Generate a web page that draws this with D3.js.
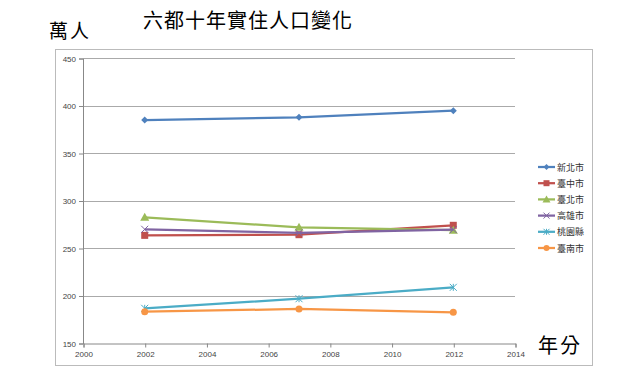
<!DOCTYPE html>
<html><head><meta charset="utf-8">
<script src="https://cdn.jsdelivr.net/npm/d3@7"></script>
<style>body{margin:0;background:#fff}svg{display:block}</style>
</head><body>
<script>
const years = [2002, 2007, 2012];
const seriesNames = ["新北市", "臺中市", "臺北市", "高雄市", "桃園縣", "臺南市"];
const xinbei = [384.7, 387.6, 394.5];
const taizhong = [263.3, 264.0, 273.9];
const taibei = [282.3, 271.8, 268.8];
const gaoxiong = [269.7, 266.0, 269.3];
const taoyuan = [186.5, 196.6, 208.6];
const tainan = [183.0, 185.8, 182.3];
const yTicks = [150, 200, 250, 300, 350, 400, 450];
const xTicks = [2000, 2002, 2004, 2006, 2008, 2010, 2012, 2014];
const colors = ["#4F81BD", "#C0504D", "#9BBB59", "#8064A2", "#4BACC6", "#F79646"];
const markers = ["diamond", "square", "triangle", "x", "star", "circle"];
const values = [xinbei, taizhong, taibei, gaoxiong, taoyuan, tainan];

const W = 640, H = 386;
const svg = d3.select("body").append("svg").attr("width", W).attr("height", H);
const font = "'Noto Sans CJK TC','Noto Sans CJK SC',sans-serif";

// outer frame
svg.append("rect").attr("x", 55.5).attr("y", 49.5).attr("width", 537).attr("height", 316)
  .attr("fill", "none").attr("stroke", "#bbb").attr("stroke-width", 1);

const x = d3.scaleLinear().domain([2000, 2014]).range([83, 515]);
const y = d3.scaleLinear().domain([150, 450]).range([343, 58]);

// gridlines
svg.append("g").selectAll("line").data(yTicks.slice(1)).join("line")
  .attr("x1", x(2000)).attr("x2", x(2014))
  .attr("y1", d => Math.round(y(d)) + 0.5).attr("y2", d => Math.round(y(d)) + 0.5)
  .attr("stroke", "#aaa").attr("stroke-width", 1);

// axes
const yAxis = svg.append("g").attr("transform", `translate(${x(2000)},0.5)`)
  .call(d3.axisLeft(y).tickValues(yTicks).tickSize(4).tickPadding(3).tickFormat(d3.format("d")));
const xAxis = svg.append("g").attr("transform", `translate(0.5,${Math.round(y(150)) + 0.5})`)
  .call(d3.axisBottom(x).tickValues(xTicks).tickSize(4).tickPadding(4).tickFormat(d3.format("d")));
[yAxis, xAxis].forEach(a => {
  a.select(".domain").attr("stroke", "#888");
  a.selectAll(".tick line").attr("stroke", "#888");
  a.selectAll(".tick text").attr("fill", "#444").attr("font-size", 8)
    .attr("font-family", "'Liberation Sans',Arial,sans-serif");
});

function drawMarker(g, type, color, size) {
  const s = size;
  if (type === "diamond") g.append("path").attr("d", `M0,${-s}L${s},0L0,${s}L${-s},0Z`).attr("fill", color);
  else if (type === "square") g.append("rect").attr("x", -s).attr("y", -s).attr("width", 2 * s).attr("height", 2 * s).attr("fill", color);
  else if (type === "triangle") g.append("path").attr("d", `M0,${-s - 1}L${s + 1},${s}L${-s - 1},${s}Z`).attr("fill", color);
  else if (type === "x") g.append("path").attr("d", `M${-s},${-s}L${s},${s}M${-s},${s}L${s},${-s}`).attr("stroke", color).attr("stroke-width", 1);
  else if (type === "star") g.append("path").attr("d", `M${-s},${-s}L${s},${s}M${-s},${s}L${s},${-s}M0,${-s}L0,${s}`).attr("stroke", color).attr("stroke-width", 1);
  else if (type === "circle") g.append("circle").attr("r", s).attr("fill", color);
}

const line = d3.line().x((d, i) => x(years[i])).y(d => y(d));
values.forEach((vals, k) => {
  svg.append("path").datum(vals).attr("d", line).attr("fill", "none")
    .attr("stroke", colors[k]).attr("stroke-width", 2.25);
  vals.forEach((v, i) => {
    const g = svg.append("g").attr("transform", `translate(${x(years[i])},${y(v)})`);
    drawMarker(g, markers[k], colors[k], markers[k] === "square" ? 3.5 : 3.5);
  });
});

// legend
const lg = svg.append("g");
seriesNames.forEach((n, k) => {
  const ly = 167 + k * 16.2;
  lg.append("line").attr("x1", 538).attr("x2", 555).attr("y1", ly).attr("y2", ly)
    .attr("stroke", colors[k]).attr("stroke-width", 2.25);
  const g = lg.append("g").attr("transform", `translate(546.5,${ly})`);
  drawMarker(g, markers[k], colors[k], 3);
  lg.append("text").attr("x", 557).attr("y", ly + 3.5).text(n)
    .attr("font-size", 9).attr("fill", "#333").attr("font-family", font);
});

// titles
svg.append("text").attr("x", 248).attr("y", 28).attr("text-anchor", "middle")
  .attr("font-size", 20).attr("letter-spacing", 1).attr("font-family", font).attr("fill", "#000")
  .text("六都十年實住人口變化");
svg.append("text").attr("x", 49).attr("y", 38).attr("font-size", 19).attr("letter-spacing", 2)
  .attr("font-family", font).attr("fill", "#000").text("萬人");
svg.append("text").attr("x", 538).attr("y", 353).attr("font-size", 20).attr("letter-spacing", 2)
  .attr("font-family", font).attr("fill", "#000").text("年分");
</script>
</body></html>
